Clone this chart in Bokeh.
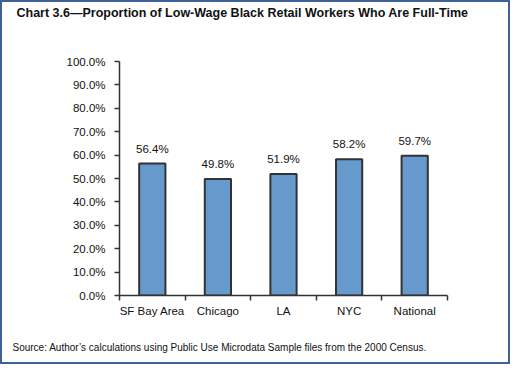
from bokeh.plotting import figure
from bokeh.models import ColumnDataSource, FixedTicker, PrintfTickFormatter, Range1d, Title
from bokeh.core.properties import value
from bokeh.embed import file_html
from bokeh.resources import INLINE

categories = ["SF Bay Area", "Chicago", "LA", "NYC", "National"]
values = [56.4, 49.8, 51.9, 58.2, 59.7]
value_labels = ["56.4%", "49.8%", "51.9%", "58.2%", "59.7%"]
y_ticks = [0, 10, 20, 30, 40, 50, 60, 70, 80, 90, 100]
title_text = "Chart 3.6\u2014Proportion of Low-Wage Black Retail Workers Who Are Full-Time"
source_text = "Source: Author\u2019s calculations using Public Use Microdata Sample files from the 2000 Census."

xpos = [i + 0.5 for i in range(len(categories))]
src = ColumnDataSource(dict(x=xpos, top=values, lab=value_labels))

p = figure(width=510, height=364, output_backend="svg", toolbar_location=None,
           x_range=Range1d(0, len(categories)), y_range=Range1d(0, 100),
           min_border_left=119, min_border_right=63, min_border_top=61, min_border_bottom=69)
p.styles = {"box-shadow": "inset 0 0 0 2px #40609C", "background-color": "white"}
p.outline_line_color = None
p.xgrid.visible = False
p.ygrid.visible = False
p.background_fill_color = "white"
p.border_fill_color = None

p.vbar(x="x", top="top", width=0.4, bottom=0, source=src,
       fill_color="#6699CC", line_color="#333333", line_width=2)
p.text(x="x", y="top", text="lab", source=src, text_align="center",
       text_baseline="alphabetic", y_offset=-15,
       text_font=value("Liberation Sans"), text_font_size="11.5px", text_color="#111111")

# y axis
p.yaxis.ticker = FixedTicker(ticks=y_ticks)
p.yaxis.formatter = PrintfTickFormatter(format="%.1f%%")
p.yaxis.major_tick_out = 5
p.yaxis.major_tick_in = 0
p.yaxis.minor_tick_line_color = None
p.yaxis.axis_line_color = "#333333"
p.yaxis.axis_line_width = 1.5
p.yaxis.major_tick_line_color = "#333333"
p.yaxis.major_tick_line_width = 1.5
p.yaxis.major_label_text_font = "Liberation Sans"
p.yaxis.major_label_text_font_size = "11.5px"
p.yaxis.major_label_text_color = "#111111"
p.yaxis.major_label_standoff = 9

# x axis
p.xaxis.ticker = FixedTicker(ticks=xpos, minor_ticks=list(range(len(categories) + 1)))
p.xaxis.major_label_overrides = {x: c for x, c in zip(xpos, categories)}
p.xaxis.major_tick_line_color = None
p.xaxis.major_tick_out = 0
p.xaxis.major_tick_in = 0
p.xaxis.minor_tick_out = 5
p.xaxis.minor_tick_in = 0
p.xaxis.minor_tick_line_color = "#333333"
p.xaxis.minor_tick_line_width = 1.5
p.xaxis.axis_line_color = "#333333"
p.xaxis.axis_line_width = 1.5
p.xaxis.major_label_text_font = "Liberation Sans"
p.xaxis.major_label_text_font_size = "11.5px"
p.xaxis.major_label_text_color = "#111111"
p.xaxis.major_label_standoff = 4

# spacer (nearest the frame) then the chart title above it
p.add_layout(Title(text=" ", text_font_size="1px", standoff=38.5), "above")
p.add_layout(Title(text=title_text, align="left", offset=-103, standoff=0,
                   text_font="Liberation Sans", text_font_style="bold",
                   text_font_size="12.5px", text_color="#111111"), "above")

# spacer below the axis, then the source note
p.add_layout(Title(text=" ", text_font_size="1px", standoff=7), "below")
p.add_layout(Title(text=source_text, align="left", offset=-107, standoff=20,
                   text_font="Liberation Sans", text_font_style="normal",
                   text_font_size="10px", text_color="#111111"), "below")

open("out.html", "w").write(file_html(p, INLINE))
